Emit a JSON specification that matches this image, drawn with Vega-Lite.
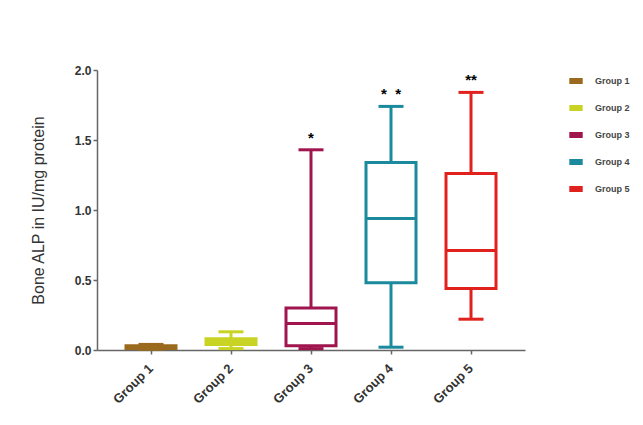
{
  "$schema": "https://vega.github.io/schema/vega-lite/v6.json",
  "width": 428,
  "height": 280,
  "autosize": "none",
  "padding": {"left": 97, "top": 70, "right": 118, "bottom": 75},
  "background": "white",
  "config": {
    "view": {"stroke": null},
    "font": "Liberation Sans",
    "tick": {"opacity": 1},
    "axis": {"domainColor": "#666", "tickColor": "#666", "domainWidth": 1.5, "tickWidth": 1.5, "labelColor": "#333", "labelFontWeight": "bold", "labelFontSize": 12, "titleColor": "#333", "grid": false}
  },
  "data": {
    "values": [
      {"group": "Group 1", "min": 0.005, "q1": 0.01, "median": 0.02, "q3": 0.03, "max": 0.04, "star": ""},
      {"group": "Group 2", "min": 0.01, "q1": 0.04, "median": 0.06, "q3": 0.08, "max": 0.13, "star": ""},
      {"group": "Group 3", "min": 0.01, "q1": 0.03, "median": 0.19, "q3": 0.30, "max": 1.43, "star": "*"},
      {"group": "Group 4", "min": 0.02, "q1": 0.48, "median": 0.94, "q3": 1.34, "max": 1.74, "star": "* \u00a0*"},
      {"group": "Group 5", "min": 0.22, "q1": 0.44, "median": 0.71, "q3": 1.26, "max": 1.84, "star": "**"}
    ]
  },
  "encoding": {
    "x": {
      "field": "group", "type": "nominal", "sort": null,
      "scale": {"paddingInner": 0, "paddingOuter": 0.175},
      "axis": {"title": null, "labelAngle": -45, "labelAlign": "right", "labelBaseline": "middle", "labelFontSize": 13, "labelPadding": 12, "labelDx": -3, "tickSize": 4}
    },
    "color": {
      "field": "group", "type": "nominal",
      "scale": {"domain": ["Group 1", "Group 2", "Group 3", "Group 4", "Group 5"], "range": ["#9a6a1e", "#c9d324", "#a1154f", "#1b8a9d", "#e1211d"]},
      "legend": {
        "title": null, "orient": "none", "legendX": 472, "legendY": 4,
        "symbolType": "M-1,-0.45H1V0.45H-1Z", "symbolSize": 180, "symbolStrokeWidth": 0, "symbolOpacity": 1,
        "labelFontSize": 9, "labelFontWeight": "bold", "labelColor": "#444", "rowPadding": 15, "labelOffset": 12
      }
    }
  },
  "layer": [
    {
      "mark": {"type": "rule", "strokeWidth": 3},
      "encoding": {
        "y": {"field": "min", "type": "quantitative", "scale": {"domain": [0, 2]},
          "axis": {"title": "Bone ALP in IU/mg protein", "titleFontSize": 16, "titleFontWeight": "normal", "titlePadding": 28, "values": [0, 0.5, 1, 1.5, 2], "format": ".1f", "tickSize": 4}},
        "y2": {"field": "max"}
      }
    },
    {
      "mark": {"type": "tick", "size": 25, "thickness": 3, "orient": "horizontal", "opacity": 1},
      "encoding": {"y": {"field": "max", "type": "quantitative"}}
    },
    {
      "mark": {"type": "tick", "size": 25, "thickness": 3, "orient": "horizontal", "opacity": 1},
      "encoding": {"y": {"field": "min", "type": "quantitative"}}
    },
    {
      "mark": {"type": "bar", "width": 50, "fill": "white", "strokeWidth": 3, "opacity": 1},
      "encoding": {
        "y": {"field": "q1", "type": "quantitative"},
        "y2": {"field": "q3"},
        "stroke": {"field": "group", "type": "nominal", "legend": null, "scale": {"domain": ["Group 1", "Group 2", "Group 3", "Group 4", "Group 5"], "range": ["#9a6a1e", "#c9d324", "#a1154f", "#1b8a9d", "#e1211d"]}},
        "color": {"value": "white"}
      }
    },
    {
      "mark": {"type": "tick", "size": 50, "thickness": 3, "orient": "horizontal", "opacity": 1},
      "encoding": {"y": {"field": "median", "type": "quantitative"}}
    },
    {
      "mark": {"type": "text", "dy": -4, "fontSize": 15, "fontWeight": "bold", "baseline": "bottom"},
      "encoding": {"y": {"field": "max", "type": "quantitative"}, "text": {"field": "star"}, "color": {"value": "black"}}
    }
  ]
}
